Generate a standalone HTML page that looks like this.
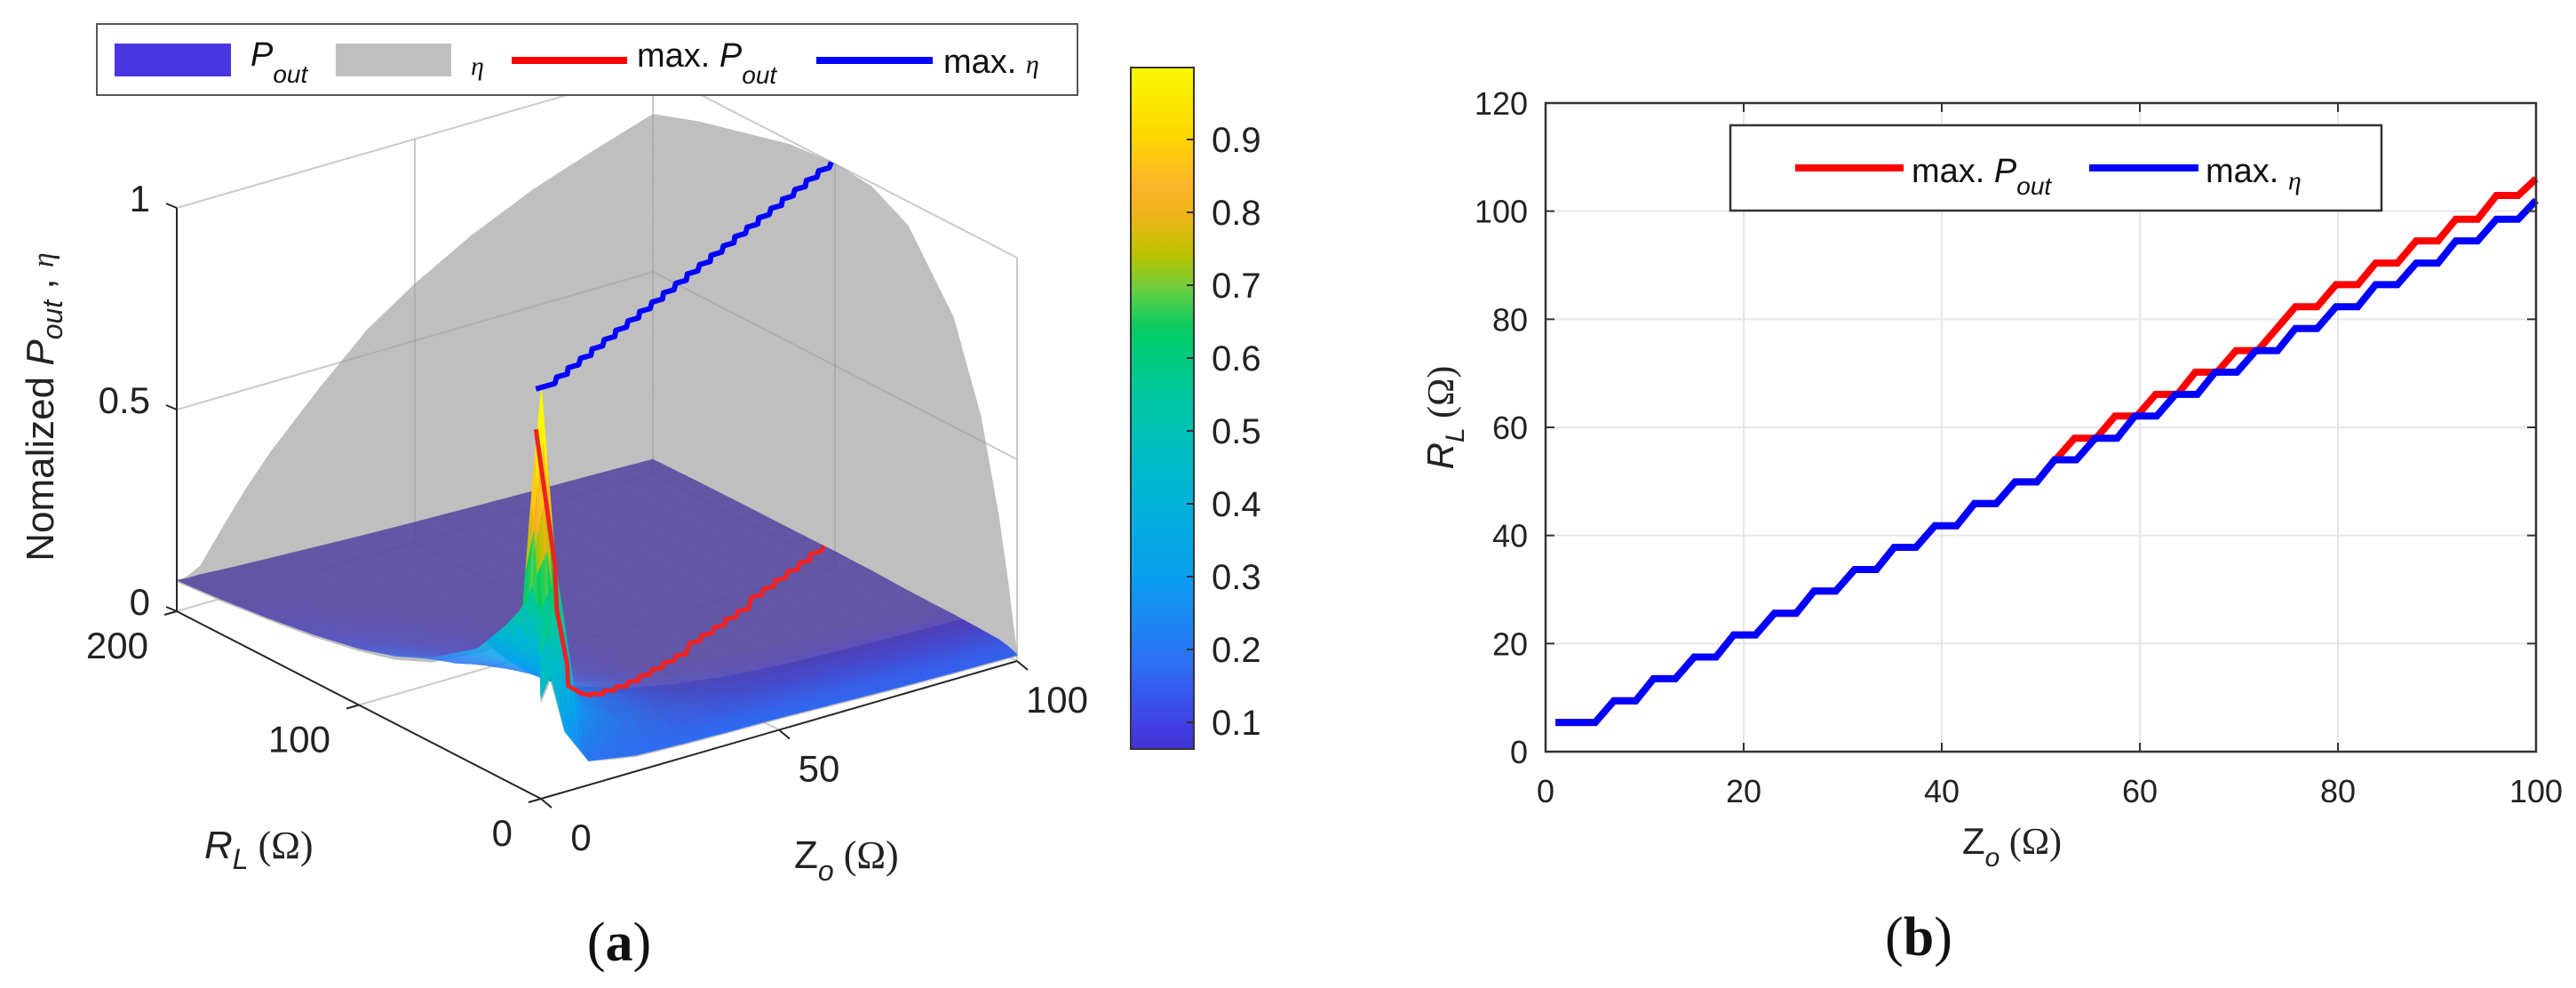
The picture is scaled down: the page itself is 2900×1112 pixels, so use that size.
<!DOCTYPE html>
<html><head><meta charset="utf-8">
<style>
html,body{margin:0;padding:0;background:#fff;}
svg{display:block;font-family:"Liberation Sans",Arial,sans-serif;}
</style></head>
<body>
<svg id="fig" width="2900" height="1112" viewBox="0 0 2900 1112" xmlns="http://www.w3.org/2000/svg">
<defs>
<linearGradient id="cbgrad" x1="0" y1="0" x2="0" y2="1"></linearGradient>
</defs>
<g id="left">
  <g id="walls"></g>
  <g id="etaSurf"></g>
  <g id="wallsOver"></g>
  <g id="poutSurf" opacity="0.85"></g>
  <g id="poutBand"></g>
  <g id="axes3d"></g>
  <g id="lines3d"></g>
  <text transform="translate(60,458) rotate(-90)" text-anchor="middle" font-size="44" fill="#222">Nomalized  <tspan font-style="italic">P</tspan><tspan font-style="italic" font-size="32" dy="10">out</tspan><tspan dy="-10"> ,  </tspan><tspan font-family="Liberation Serif,serif" font-style="italic" font-size="34">η</tspan></text>
  <text x="230" y="966" font-size="44" fill="#222"><tspan font-style="italic">R</tspan><tspan font-style="italic" font-size="32" dy="12">L</tspan><tspan dy="-12" font-family="Liberation Serif,serif"> (Ω)</tspan></text>
  <text x="894" y="977" font-size="44" fill="#222">Z<tspan font-style="italic" font-size="32" dy="14">o</tspan><tspan dy="-14" font-family="Liberation Serif,serif"> (Ω)</tspan></text>
  <g>
    <rect x="109" y="27" width="1104" height="80" fill="#fff" stroke="#555" stroke-width="2"/>
    <rect x="129" y="49" width="131" height="37" fill="#4936df"/>
    <text x="282" y="74" font-size="38" font-style="italic" fill="#111">P<tspan font-size="28" dy="19">out</tspan></text>
    <rect x="378" y="49" width="130" height="37" fill="#bfbfbf"/>
    <text x="530" y="84" font-size="30" font-style="italic" font-family="Liberation Serif,serif" fill="#111">η</text>
    <line x1="576" y1="68" x2="706" y2="68" stroke="#ff0000" stroke-width="8"/>
    <text x="717" y="75" font-size="38" fill="#111">max.  <tspan font-style="italic">P</tspan><tspan font-style="italic" font-size="28" dy="19">out</tspan></text>
    <line x1="919" y1="68" x2="1050" y2="68" stroke="#0000ff" stroke-width="8"/>
    <text x="1062" y="82" font-size="38" fill="#111">max.  <tspan font-style="italic" font-family="Liberation Serif,serif" font-size="30">η</tspan></text>
  </g>
  <g id="colorbar"></g>
  <text x="697" y="1081" text-anchor="middle" font-size="62" font-family="Liberation Serif,serif" fill="#111">(<tspan font-weight="bold">a</tspan>)</text>
</g>
<g id="right">
  <g id="rgrid"></g>
  <g id="rlines"></g>
  <g id="raxes"></g>
  <text transform="translate(1636,470) rotate(-90)" text-anchor="middle" font-size="42" fill="#222"><tspan font-style="italic">R</tspan><tspan font-style="italic" font-size="30" dy="12">L</tspan><tspan dy="-12" font-family="Liberation Serif,serif"> (Ω)</tspan></text>
  <text x="2209" y="961" font-size="42" fill="#222">Z<tspan font-style="italic" font-size="30" dy="14">o</tspan><tspan dy="-14" font-family="Liberation Serif,serif"> (Ω)</tspan></text>
  <g>
    <rect x="1948" y="141" width="733" height="96" fill="#fff" stroke="#333" stroke-width="2.5"/>
    <line x1="2021" y1="189" x2="2143" y2="189" stroke="#ff0000" stroke-width="8"/>
    <text x="2152" y="205" font-size="38" fill="#111">max.  <tspan font-style="italic">P</tspan><tspan font-style="italic" font-size="28" dy="14">out</tspan></text>
    <line x1="2352" y1="189" x2="2475" y2="189" stroke="#0000ff" stroke-width="8"/>
    <text x="2483" y="205" font-size="38" fill="#111">max.  <tspan font-style="italic" font-family="Liberation Serif,serif" font-size="30" dy="8">η</tspan></text>
  </g>
  <text x="2160" y="1075" text-anchor="middle" font-size="62" font-family="Liberation Serif,serif" fill="#111">(<tspan font-weight="bold">b</tspan>)</text>
</g>
</svg>
<script>
// ---------- data: panel (b) stair series ----------
const blueLevels=[5.4,9.4,13.5,17.5,21.6,25.6,29.7,33.7,37.8,41.8,45.9,49.9,54,58,62.1,66.1,70.2,74.2,78.3,82.3,86.4,90.4,94.5,98.5,102];
const blueStarts=[1,6.9,10.9,15,19,23.1,27.1,31.2,35.2,39.3,43.3,47.4,51.4,55.5,59.5,63.6,67.6,71.7,75.7,79.8,83.8,87.9,91.9,96,100];
const blueEnds=[5,9.1,13.1,17.2,21.2,25.3,29.3,33.4,37.4,41.5,45.5,49.6,53.6,57.7,61.7,65.8,69.8,73.9,77.9,82,86,90.1,94.1,98.2,100];
const redLevels=[5.4,9.4,13.5,17.5,21.6,25.6,29.7,33.7,37.8,41.8,45.9,49.9,54,58,62.1,66.1,70.2,74.2,82.3,86.4,90.4,94.5,98.5,102.9,106];
const redStarts=[1,6.9,10.9,15,19,23.1,27.1,31.2,35.2,39.3,43.3,47.4,51.4,53.4,57.5,61.6,65.6,69.7,75.7,79.8,83.8,87.9,91.9,96,100];
const redEnds=[5,9.1,13.1,17.2,21.2,25.3,29.3,33.4,37.4,41.5,45.5,49.6,51.5,55.6,59.7,63.8,67.8,71.9,77.9,82,86,90.1,94.1,98.2,100];
const xTicksB=[0,20,40,60,80,100];
const yTicksB=[0,20,40,60,80,100,120];
// ---------- data: panel (a) surfaces ----------
const gridZo=[0,2,5,10,15,20,30,40,50,62,75,87,100];
const gridRL=[0,2,5,10,20,35,60,80,100,125,150,175,200];
const poutGrid=[
[0.25,0.55,0.75,0.45,0.38,0.29,0.21,0.168,0.14,0.117,0.10,0.087,0.077],
[0.3,0.6,1.0,0.5,0.33,0.27,0.20,0.16,0.136,0.113,0.097,0.084,0.074],
[0.15,0.3,0.55,0.35,0.28,0.24,0.18,0.15,0.13,0.108,0.094,0.082,0.074],
[0.06,0.07,0.14,0.19,0.21,0.20,0.16,0.136,0.12,0.10,0.088,0.078,0.07],
[0.05,0.052,0.094,0.139,0.168,0.165,0.141,0.123,0.109,0.094,0.083,0.074,0.067],
[0.04,0.045,0.069,0.106,0.136,0.14,0.126,0.112,0.10,0.088,0.079,0.071,0.064],
[0.035,0.04,0.048,0.068,0.094,0.106,0.102,0.094,0.087,0.078,0.071,0.064,0.059],
[0.032,0.036,0.045,0.05,0.069,0.082,0.084,0.080,0.076,0.069,0.064,0.059,0.054],
[0.03,0.033,0.04,0.045,0.053,0.066,0.071,0.069,0.066,0.062,0.058,0.054,0.05],
[0.025,0.029,0.036,0.042,0.045,0.052,0.059,0.059,0.057,0.055,0.052,0.049,0.046],
[0.02,0.025,0.032,0.037,0.04,0.045,0.049,0.05,0.05,0.048,0.046,0.044,0.042],
[0.017,0.022,0.028,0.033,0.036,0.039,0.041,0.043,0.044,0.043,0.042,0.04,0.039],
[0.015,0.02,0.025,0.03,0.032,0.034,0.035,0.038,0.039,0.038,0.038,0.037,0.035]];
const etaGrid=[
[0.24,0.5,0.7,0.44,0.37,0.28,0.2,0.16,0.135,0.112,0.096,0.083,0.074],
[0.29,0.3,0.82,0.56,0.34,0.28,0.21,0.17,0.14,0.117,0.10,0.087,0.077],
[0.15,0.4,1,0.89,0.64,0.44,0.28,0.22,0.18,0.148,0.125,0.108,0.095],
[0.06,0.56,0.89,1,0.89,0.69,0.49,0.40,0.33,0.27,0.23,0.20,0.18],
[0.047,0.42,0.75,0.96,0.98,0.84,0.64,0.53,0.45,0.38,0.33,0.29,0.26],
[0.037,0.33,0.64,0.89,1,0.93,0.75,0.64,0.56,0.48,0.42,0.37,0.33],
[0.032,0.23,0.49,0.75,0.96,0.99,0.89,0.79,0.71,0.62,0.56,0.50,0.45],
[0.029,0.18,0.40,0.64,0.89,1.0,0.96,0.89,0.82,0.73,0.66,0.61,0.56],
[0.027,0.15,0.33,0.56,0.82,0.97,0.99,0.95,0.89,0.82,0.75,0.69,0.64],
[0.022,0.12,0.28,0.48,0.74,0.92,1,0.98,0.94,0.89,0.83,0.77,0.72],
[0.017,0.10,0.23,0.42,0.66,0.87,0.99,1,0.98,0.94,0.89,0.84,0.79],
[0.014,0.088,0.21,0.37,0.61,0.82,0.97,1,1,0.97,0.93,0.89,0.84],
[0.012,0.077,0.18,0.33,0.56,0.77,0.94,0.99,1,0.99,0.96,0.93,0.89]];
const redPoutZ=[1,2,5,10,15,20,30,40,50,60,70,80,90,100];
const redPoutV=[0.9,1,0.55,0.22,0.17,0.14,0.107,0.088,0.073,0.062,0.054,0.047,0.042,0.039];
const maxEtaV=1;
const cbTicks=[0.1,0.2,0.3,0.4,0.5,0.6,0.7,0.8,0.9];
const zoTicks=[0,50,100];
const rlTicks=[0,100,200];
const vTicks=[0,0.5,1];

const NS='http://www.w3.org/2000/svg';
function mk(tag,attrs,parent){const e=document.createElementNS(NS,tag);for(const k in attrs)e.setAttribute(k,attrs[k]);parent.appendChild(e);return e;}

// ---------- colormap ----------
const cmapS=[0,0.08,0.18,0.3,0.42,0.55,0.64,0.69,0.74,0.8,0.84,0.9,1];
const cmapC=['#3b2d95','#4536e0','#2d6ff5','#0a9ff0','#00b5d5','#00c6a0','#00cc62','#60cf48','#b8c300','#f2b21a','#fcb52b','#ffd400','#f8fa00'];
function hex2rgb(h){return [parseInt(h.substr(1,2),16),parseInt(h.substr(3,2),16),parseInt(h.substr(5,2),16)];}
function cmapRGB(v){v=Math.max(0,Math.min(1,v));for(let i=0;i<cmapS.length-1;i++){if(v<=cmapS[i+1]){const t=(v-cmapS[i])/(cmapS[i+1]-cmapS[i]);const a=hex2rgb(cmapC[i]),b=hex2rgb(cmapC[i+1]);return a.map((x,k)=>x+(b[k]-x)*t);}}return hex2rgb(cmapC[cmapC.length-1]);}
function rgbStr(c){return 'rgb('+c.map(x=>Math.round(x)).join(',')+')';}
function cmap(v){return rgbStr(cmapRGB(v));}
const planeRGB=hex2rgb('#5444a1');
function clamp(x){return Math.max(0,Math.min(1,x));}
function bandness(r){return clamp(1-r/45);}
function facetColor(v,r){
  const s=bandness(r);
  const base=cmapRGB(v+0.14*s);
  const m=(1-s)*clamp(1-(v-0.08)/0.1);
  return rgbStr(base.map((x,k)=>x+(planeRGB[k]-x)*m));
}

// ---------- panel (a) projection ----------
const F0=[609,899],VZ=[536,-155],VR=[-410,-211],VS=454;
function P(z,r,v){return [F0[0]+z/100*VZ[0]+r/200*VR[0], F0[1]+z/100*VZ[1]+r/200*VR[1]-v*VS];}
function pts(a){return a.map(p=>p[0].toFixed(1)+','+p[1].toFixed(1)).join(' ');}

// walls & grid
const walls=document.getElementById('walls');
const wallsOver=document.getElementById('wallsOver');
function wallLines(g,col){
  const segs=[
    [[0,200,0],[100,200,0]],[[0,200,0.5],[100,200,0.5]],[[0,200,1],[100,200,1]],
    [[100,200,0],[100,0,0]],[[100,200,0.5],[100,0,0.5]],[[100,200,1],[100,0,1]],
    [[50,200,0],[50,200,1]],[[100,100,0],[100,100,1]],[[100,200,0],[100,200,1]],
    [[100,0,0],[100,0,1]],[[0,200,0],[0,200,1]],
    [[50,0,0],[50,200,0]],[[0,100,0],[100,100,0]]];
  segs.forEach(s=>{const a=P(...s[0]),b=P(...s[1]);
    const l=mk('line',{x1:a[0],y1:a[1],x2:b[0],y2:b[1],stroke:col,'stroke-width':2},g);
    
    });
}
wallLines(walls,'#dedede');
wallLines(wallsOver,'rgba(0,0,0,0.09)');

// surfaces
function bil(grid,i,j,u,w){return grid[i][j]*(1-u)*(1-w)+grid[i+1][j]*u*(1-w)+grid[i+1][j+1]*u*w+grid[i][j+1]*(1-u)*w;}
function facets(grid,n){
  const out=[];
  for(let i=0;i<gridZo.length-1;i++)for(let j=0;j<gridRL.length-1;j++){
    for(let a=0;a<n;a++)for(let b=0;b<n;b++){
      const us=[a/n,(a+1)/n,(a+1)/n,a/n], ws=[b/n,b/n,(b+1)/n,(b+1)/n];
      const poly=[];let vs=0,zc=0,rc=0;
      for(let k=0;k<4;k++){const z=gridZo[i]+(gridZo[i+1]-gridZo[i])*us[k];const r=gridRL[j]+(gridRL[j+1]-gridRL[j])*ws[k];
        const v=bil(grid,i,j,us[k],ws[k]);vs+=v;zc+=z;rc+=r;poly.push(P(z,r,v));}
      out.push({poly,v:vs/4,z:zc/4,r:rc/4,depth:zc/400+rc/800});
    }}
  return out;
}
const etaG=document.getElementById('etaSurf');
facets(etaGrid,2).forEach(f=>{const p=mk('polygon',{points:pts(f.poly),fill:'#bfbfbf',stroke:'#bfbfbf','stroke-width':1.2},etaG);
  
  });
const poutG=document.getElementById('poutSurf');
const bandG=document.getElementById('poutBand');
facets(poutGrid,3).sort((a,b)=>b.depth-a.depth).forEach(f=>{const c=facetColor(f.v,f.r);
  const target=(bandness(f.r)>0.35)?bandG:poutG;
  const p=mk('polygon',{points:pts(f.poly),fill:c,stroke:c,'stroke-width':0.8},target);
  
  });

// 3D axes
const ax=document.getElementById('axes3d');
function axLine(a,b,name){const l=mk('line',{x1:a[0],y1:a[1],x2:b[0],y2:b[1],stroke:'#262626','stroke-width':2},ax);
  
  }
axLine(P(0,200,0),P(0,0,0),'rl-axis-line');
axLine(P(0,0,0),P(100,0,0),'zo-axis-line');
axLine(P(0,200,0),P(0,200,1),'z-axis-line');
zoTicks.forEach(t=>{const p=P(t,0,0);
  const l=mk('line',{x1:p[0],y1:p[1],x2:p[0]+12,y2:p[1]+10,stroke:'#262626','stroke-width':2},ax);
  
  
  const tx=mk('text',{x:p[0]+45,y:p[1]+58,'text-anchor':'middle','font-size':42,fill:'#222'},ax);tx.textContent=t;
  
  });
rlTicks.forEach(t=>{const p=P(0,t,0);
  const l=mk('line',{x1:p[0],y1:p[1],x2:p[0]-14,y2:p[1]+4,stroke:'#262626','stroke-width':2},ax);
  
  
  const tx=mk('text',{x:p[0]-32,y:p[1]+53,'text-anchor':'end','font-size':42,fill:'#222'},ax);tx.textContent=t;
  
  });
vTicks.forEach(t=>{const p=P(0,200,t);
  const l=mk('line',{x1:p[0],y1:p[1],x2:p[0]-12,y2:p[1]-5,stroke:'#262626','stroke-width':2},ax);
  
  
  const tx=mk('text',{x:p[0]-30,y:p[1]+4,'text-anchor':'end','font-size':42,fill:'#222'},ax);tx.textContent=t;
  
  });

// stair path helper
function stairPts(levels,starts,ends){const a=[];for(let i=0;i<levels.length;i++){a.push([starts[i],levels[i]]);a.push([ends[i],levels[i]]);}return a;}
function interp(xs,ys,x){if(x<=xs[0])return ys[0];for(let i=0;i<xs.length-1;i++){if(x<=xs[i+1]){const t=(x-xs[i])/(xs[i+1]-xs[i]);return ys[i]+(ys[i+1]-ys[i])*t;}}return ys[ys.length-1];}

// 3D max lines
const l3=document.getElementById('lines3d');
const red3=stairPts(redLevels,redStarts,redEnds).map(q=>P(q[0],q[1],interp(redPoutZ,redPoutV,q[0])));
const redLine3=mk('polyline',{points:pts(red3),fill:'none',stroke:'#ee2222','stroke-width':5,'stroke-linejoin':'round'},l3);


const blue3=stairPts(blueLevels,blueStarts,blueEnds).map(q=>P(q[0],q[1],maxEtaV));
const blueLine3=mk('polyline',{points:pts(blue3),fill:'none',stroke:'#0000ff','stroke-width':6,'stroke-linejoin':'round'},l3);



// colorbar
const cbX=1273,cbW=71,cbTop=76,cbBot=843;
function cbY(v){return 895-820*v;}
const vBot=(895-cbBot)/820;
const grad=document.getElementById('cbgrad');
for(let k=0;k<=40;k++){const v=1-(1-vBot)*k/40;mk('stop',{offset:(k/40).toFixed(3),'stop-color':cmap(v)},grad);}
const cb=document.getElementById('colorbar');
const cbr=mk('rect',{x:cbX,y:cbTop,width:cbW,height:cbBot-cbTop,fill:'url(#cbgrad)',stroke:'#333','stroke-width':2},cb);


cbTicks.forEach(t=>{const y=cbY(t);
  const l=mk('line',{x1:cbX+cbW-8,y1:y,x2:cbX+cbW,y2:y,stroke:'#333','stroke-width':2},cb);
  
  
  const tx=mk('text',{x:1364,y:y+14,'font-size':40,fill:'#222'},cb);tx.textContent=t.toFixed(1);
  
  });

// ---------- panel (b) ----------
const X0=1740,X1=2855,Y0=846,Y1=116;
function xS(z){return X0+(z-0)/(100-0)*(X1-X0);}
function yS(r){return Y0-(r-0)/(120-0)*(Y0-Y1);}
const rg=document.getElementById('rgrid');
xTicksB.forEach(t=>{if(t>0&&t<100){const l=mk('line',{x1:xS(t),y1:Y1,x2:xS(t),y2:Y0,stroke:'#e6e6e6','stroke-width':2},rg);
  
  }});
yTicksB.forEach(t=>{if(t>0&&t<120){const l=mk('line',{x1:X0,y1:yS(t),x2:X1,y2:yS(t),stroke:'#e6e6e6','stroke-width':2},rg);
  
  }});
const rl=document.getElementById('rlines');
const redP=stairPts(redLevels,redStarts,redEnds).map(q=>[xS(q[0]),yS(q[1])]);
const redPL=mk('polyline',{points:pts(redP),fill:'none',stroke:'#ff0000','stroke-width':8,'stroke-linejoin':'miter'},rl);


const blueP=stairPts(blueLevels,blueStarts,blueEnds).map(q=>[xS(q[0]),yS(q[1])]);
const bluePL=mk('polyline',{points:pts(blueP),fill:'none',stroke:'#0000ff','stroke-width':8,'stroke-linejoin':'miter'},rl);


const ra=document.getElementById('raxes');
const box=mk('rect',{x:X0,y:Y1,width:X1-X0,height:Y0-Y1,fill:'none',stroke:'#333','stroke-width':2.5},ra);


xTicksB.forEach(t=>{const x=xS(t);
  const a=mk('line',{x1:x,y1:Y0,x2:x,y2:Y0-10,stroke:'#333','stroke-width':2},ra);
  
  
  const b=mk('line',{x1:x,y1:Y1,x2:x,y2:Y1+10,stroke:'#333','stroke-width':2},ra);
  
  
  const tx=mk('text',{x:x,y:903,'text-anchor':'middle','font-size':36,fill:'#222'},ra);tx.textContent=t;
  
  });
yTicksB.forEach(t=>{const y=yS(t);
  const a=mk('line',{x1:X0,y1:y,x2:X0+10,y2:y,stroke:'#333','stroke-width':2},ra);
  
  
  const b=mk('line',{x1:X1,y1:y,x2:X1-10,y2:y,stroke:'#333','stroke-width':2},ra);
  
  
  const tx=mk('text',{x:1720,y:y+13,'text-anchor':'end','font-size':36,fill:'#222'},ra);tx.textContent=t;
  
  });
</script>
</body></html>
